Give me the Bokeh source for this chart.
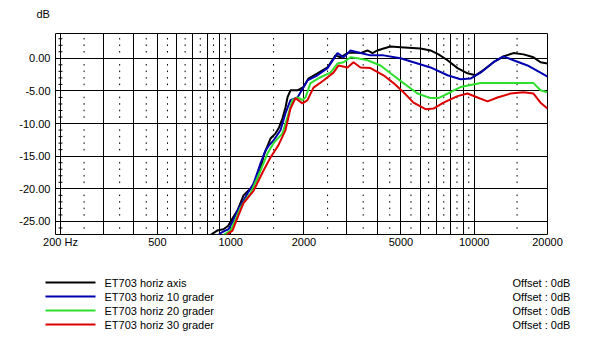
from bokeh.plotting import figure
from bokeh.layouts import column
from bokeh.models import Range1d, FixedTicker, PrintfTickFormatter, ColumnDataSource
from bokeh.embed import file_html
from bokeh.resources import INLINE
from bokeh.core.properties import value

FONT = "Liberation Sans"

# ---------------- data ----------------
axis_f = [790, 840, 880, 934, 975, 1027, 1070, 1129, 1180, 1230, 1288, 1330, 1364, 1410, 1457,
          1528, 1580, 1632, 1680, 1711, 1760, 1881, 1990, 2086, 2272, 2498, 2695, 2825, 3018, 3164,
          3412, 3646, 3822, 4008, 4243, 4532, 4982, 6018, 6616, 7136, 7770, 8541, 9388, 10125, 10920,
          12003, 13193, 14504, 15940, 17520, 18722, 20000]
axis_db = [-27.6, -26.9, -26.4, -26.2, -25.7, -24.3, -23.2, -21.0, -20.3, -19.8, -18.3, -16.8, -15.0, -13.6, -12.3,
           -11.5, -10.6, -9.2, -7.5, -6.0, -4.9, -4.9, -4.4, -3.1, -2.3, -1.4, 0.45, 0.15, 0.8, 0.9,
           0.8, 1.2, 0.8, 1.2, 1.5, 1.8, 1.7, 1.5, 1.2, 0.6, -0.3, -1.5, -2.3, -2.6, -1.8,
           -0.6, 0.3, 0.8, 0.6, 0.15, -0.6, -0.8]

g10_f = [860, 908, 950, 980, 1020, 1067, 1120, 1172, 1241, 1326, 1390, 1440, 1499, 1602, 1679,
         1760, 1881, 2067, 2272, 2498, 2746, 2907, 3105, 3412, 3751, 4243, 4982, 5634, 6616, 7770,
         8787, 9660, 10614, 12003, 13193, 14504, 16556, 18722, 20000]
g10_db = [-27.6, -26.8, -26.4, -26.2, -25.0, -23.3, -22.0, -20.7, -19.2, -16.1, -14.1, -13.3, -12.6, -11.0, -8.4,
          -6.4, -6.0, -3.4, -2.6, -1.5, 0.8, 0.15, 1.2, 0.8, 0.45, 0.45, 0.0, -0.6, -1.4, -2.6,
          -3.2, -3.1, -2.2, -0.6, 0.3, -0.3, -1.1, -2.2, -2.8]

g20_f = [900, 950, 998, 1050, 1097, 1150, 1206, 1326, 1416, 1499, 1632, 1711, 1794, 1881, 1972,
         2029, 2126, 2338, 2570, 2746, 2907, 3105, 3318, 3646, 4124, 4532, 5125, 5852, 6616, 7136,
         7994, 8787, 10614, 12466, 14504, 17520, 18722, 20000]
g20_db = [-27.6, -26.9, -26.4, -24.6, -22.9, -21.7, -20.7, -17.2, -14.6, -13.0, -11.5, -9.0, -6.4, -6.0, -6.4,
          -6.0, -3.8, -2.9, -2.2, -0.8, -0.6, 0.15, 0.0, -0.3, -1.1, -2.3, -3.8, -5.4, -6.1, -6.1,
          -5.2, -4.4, -3.8, -3.8, -3.8, -3.8, -4.9, -5.2]

g30_f = [930, 975, 1017, 1070, 1129, 1241, 1364, 1457, 1571, 1679, 1760, 1846, 1972, 2067, 2188,
         2405, 2644, 2772, 3018, 3194, 3412, 3751, 4243, 4663, 5125, 5634, 6310, 6806, 7482, 8541,
         9388, 10318, 11342, 12466, 14094, 15940, 17520, 18722, 20000]
g30_db = [-27.6, -26.9, -26.4, -24.3, -22.2, -20.3, -17.2, -15.2, -13.3, -11.0, -7.7, -6.1, -6.9, -6.4, -4.5,
          -3.4, -2.2, -1.1, -1.4, -0.6, -1.4, -1.5, -2.6, -3.8, -5.2, -6.8, -7.8, -7.7, -6.8, -5.8,
          -5.4, -6.0, -6.6, -6.0, -5.4, -5.2, -5.4, -6.8, -7.7]

series_names = ["ET703 horiz axis", "ET703 horiz 10 grader", "ET703 horiz 20 grader", "ET703 horiz 30 grader"]
series_offsets = ["Offset : 0dB", "Offset : 0dB", "Offset : 0dB", "Offset : 0dB"]
series_colors = ["#000000", "#0000b0", "#2ee02e", "#dc0000"]

y_unit = "dB"
x_tick_values = [200, 500, 1000, 2000, 5000, 10000, 20000]
x_tick_labels = ["200 Hz", "500", "1000", "2000", "5000", "10000", "20000"]
y_tick_values = [0, -5, -10, -15, -20, -25]

major_grid_f = [200, 300, 400, 500, 600, 700, 800, 900, 1000,
                2000, 3000, 4000, 5000, 6000, 7000, 8000, 9000, 10000, 20000]
minor_grid_f = [250, 350, 450, 550, 650, 750, 850, 950,
                1500, 2500, 3500, 4500, 5500, 6500, 7500, 8500, 9500, 15000]


def panel(height):
    f = figure(width=602, height=height, x_range=Range1d(0, 602), y_range=Range1d(height, 0),
               output_backend="svg", toolbar_location=None, min_border=0,
               min_border_left=0, min_border_right=0, min_border_top=0, min_border_bottom=0,
               x_axis_location=None, y_axis_location=None)
    f.frame_align = False
    f.grid.visible = False
    f.outline_line_color = None
    f.background_fill_color = "white"
    f.border_fill_color = "white"
    return f


# ---------------- header with unit ----------------
hd = panel(20)
hd.text(x=[36], y=[13], text=[y_unit], text_baseline="middle", text_align="left",
        text_font=value(FONT), text_font_size="11px", text_color="black")

# ---------------- main chart ----------------
p = figure(width=602, height=236, x_axis_type="log",
           x_range=Range1d(190.8, 20000), y_range=Range1d(-27.0, 3.8),
           output_backend="svg", toolbar_location=None,
           min_border_left=55, min_border_right=55, min_border_top=13, min_border_bottom=22)
p.frame_align = False
p.background_fill_color = "white"
p.border_fill_color = "white"
p.outline_line_color = "black"
p.outline_line_width = 1
p.outline_line_alpha = 1

p.xaxis.ticker = FixedTicker(ticks=x_tick_values)
p.xaxis.major_label_overrides = {v: s for v, s in zip(x_tick_values, x_tick_labels)}
p.yaxis.ticker = FixedTicker(ticks=y_tick_values)
p.yaxis.formatter = PrintfTickFormatter(format="%.2f")
for ax in (p.xaxis[0], p.yaxis[0]):
    ax.axis_line_color = None
    ax.major_tick_line_color = None
    ax.minor_tick_line_color = None
    ax.major_tick_out = 0
    ax.major_tick_in = 0
    ax.minor_tick_out = 0
    ax.minor_tick_in = 0
    ax.major_label_text_font = FONT
    ax.major_label_text_font_size = "11px"
    ax.major_label_text_color = "black"
p.xaxis.major_label_standoff = 1
p.yaxis.major_label_standoff = 5

p.xgrid.ticker = FixedTicker(ticks=major_grid_f)
p.ygrid.ticker = FixedTicker(ticks=y_tick_values)
for g in (p.xgrid[0], p.ygrid[0]):
    g.grid_line_color = "black"
    g.grid_line_alpha = 1
    g.grid_line_width = 1

# dotted minor grid: short marks at each dB
dx, dy = [], []
for f in minor_grid_f:
    for d in range(-26, 4):
        if d % 5:
            dx.append(f)
            dy.append(d)
p.segment(x0=dx, y0=[d - 0.12 for d in dy], x1=dx, y1=[d + 0.12 for d in dy],
          line_color="black", line_width=1)
tick_db = [d for d in range(-26, 4) if d % 5]
p.scatter(x=[200] * len(tick_db), y=tick_db, marker="dash", size=4, line_color="black", line_width=1)

for fs, ds, c in zip([axis_f, g10_f, g20_f, g30_f], [axis_db, g10_db, g20_db, g30_db], series_colors):
    p.line(fs, ds, line_color=c, line_width=2)

# ---------------- legend panel ----------------
lg = panel(107)
row_y = [26, 40, 54, 68]
src = ColumnDataSource(dict(y=row_y, name=series_names, off=series_offsets, color=series_colors))
lg.segment(x0=45, x1=95, y0="y", y1="y", line_color="color", line_width=2, source=src)
lg.text(x=104, y="y", text="name", text_baseline="middle", text_align="left",
        text_font=value(FONT), text_font_size="11px", text_color="black", source=src)
lg.text(x=512, y="y", text="off", text_baseline="middle", text_align="left",
        text_font=value(FONT), text_font_size="11px", text_color="black", source=src)

layout = column(hd, p, lg, spacing=0)
open("out.html", "w").write(file_html(layout, INLINE))
